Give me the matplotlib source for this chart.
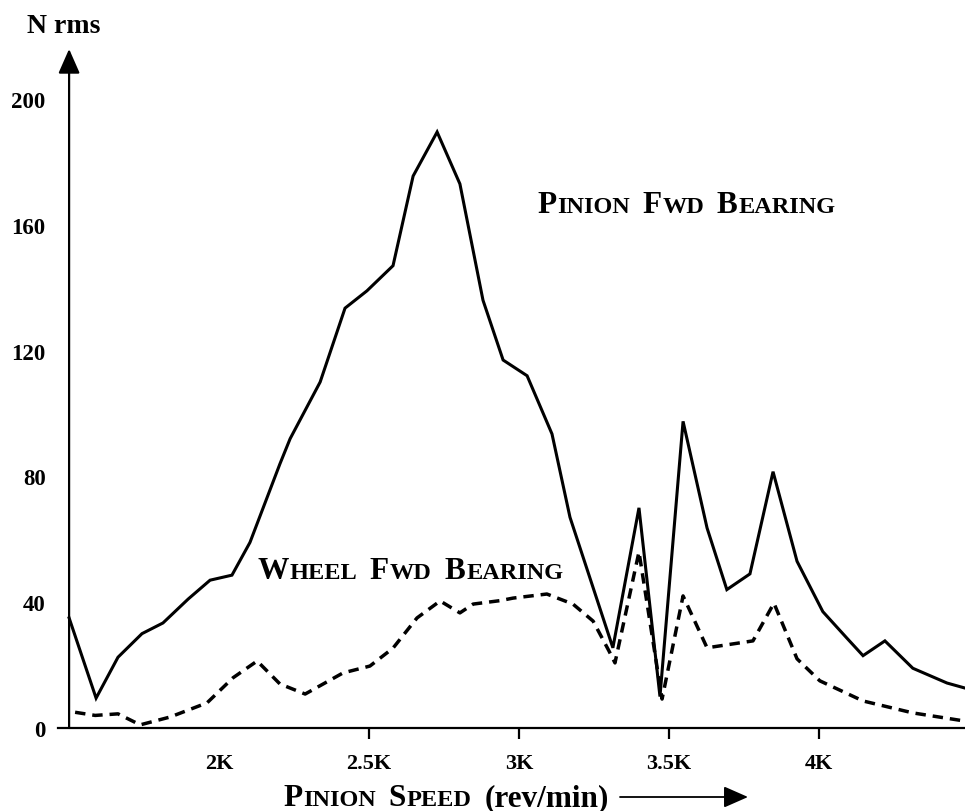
import matplotlib
matplotlib.use("Agg")
import matplotlib.pyplot as plt

# ---- data ----
pinion_rpm = [1500, 1590, 1663, 1743, 1813, 1897, 1970, 2043, 2103, 2203, 2237, 2337,
              2420, 2493, 2580, 2647, 2727, 2803, 2880, 2947, 3027, 3110, 3170, 3313,
              3400, 3470, 3547, 3627, 3693, 3770, 3847, 3927, 4013, 4093, 4147, 4220,
              4313, 4427, 4487]
pinion_n = [35, 9.5, 22.5, 30, 33.4, 41, 47, 48.6, 59, 84, 92, 110,
            133.5, 139, 147, 175.5, 189.5, 173, 136, 117, 112, 93.5, 67, 25.5,
            70, 10, 97.5, 63.6, 44, 49, 81.5, 53, 37, 28.6, 23, 27.7,
            19, 14.3, 12.7]

wheel_rpm = [1520, 1587, 1663, 1737, 1837, 1960, 2047, 2127, 2203, 2287, 2413, 2503,
             2580, 2660, 2737, 2803, 2847, 2937, 2980, 3093, 3180, 3247, 3300, 3320,
             3400, 3477, 3547, 3627, 3780, 3850, 3927, 4003, 4147, 4313, 4487]
wheel_n = [5, 4, 4.5, 1, 3.5, 8, 16, 21.3, 14, 10.8, 17.5, 19.7,
           25.4, 35, 40.4, 36.6, 39.4, 40.5, 41.3, 42.6, 39.4, 34, 24.5, 20.7,
           56, 9.2, 42, 25.5, 27.7, 39.7, 22, 15, 8.6, 4.8, 2.2]

x_ticks = [2000, 2500, 3000, 3500, 4000]
x_tick_labels = ["2K", "2.5K", "3K", "3.5K", "4K"]
y_ticks = [0, 40, 80, 120, 160, 200]
y_tick_labels = ["0", "40", "80", "120", "160", "200"]

SERIF = "Liberation Serif"
BIG = 22.5
SMALL = 17.5
GAP = 9

fig = plt.figure(figsize=(9.65, 8.12), dpi=100)
W, H = 965, 812
ax = fig.add_axes([58 / W, 1 - 729 / H, (W - 58) / W, (729 - 50) / H])
ax.set_xlim(1463, 4487)
ax.set_ylim(0, (729 - 50) / 3.145)

ax.plot(pinion_rpm, pinion_n, color="black", lw=2.2, solid_joinstyle="miter", clip_on=False)
ax.plot(wheel_rpm, wheel_n, color="black", lw=2.5, dashes=[3, 2], clip_on=False)

for s in ["top", "right", "left"]:
    ax.spines[s].set_visible(False)
ax.spines["bottom"].set_linewidth(1.6)

# y axis as an arrow
ax.annotate("", xy=(1500, ax.get_ylim()[1]), xytext=(1500, 0),
            xycoords="data", textcoords="data", annotation_clip=False,
            arrowprops=dict(arrowstyle="-|>,head_length=0.75,head_width=0.33",
                            mutation_scale=20, lw=1.6, color="black",
                            shrinkA=0, shrinkB=0))

ax.set_xticks(x_ticks)
ax.set_xticklabels(x_tick_labels, fontfamily=SERIF, fontweight="bold", fontsize=16)
ax.tick_params(axis="x", direction="out", length=8, width=1.6, pad=10)
ax.xaxis.get_major_ticks()[0].tick1line.set_visible(False)

ax.set_yticks(y_ticks)
ax.set_yticklabels(y_tick_labels, fontfamily=SERIF, fontweight="bold", fontsize=16.5)
ax.tick_params(axis="y", length=0, pad=9)


def smallcaps(parts, xy, ycoords):
    prev = None
    for text, size, gap in parts:
        if prev is None:
            prev = ax.annotate(text, xy=xy, xycoords=(ycoords[0], ycoords[1]),
                               fontsize=size, fontfamily=SERIF, fontweight="bold",
                               va="baseline", ha="left", annotation_clip=False)
        else:
            prev = ax.annotate(text, xy=(1, xy[1]), xycoords=(prev, ycoords[1]),
                               xytext=(gap, 0), textcoords="offset points",
                               fontsize=size, fontfamily=SERIF, fontweight="bold",
                               va="baseline", ha="left", annotation_clip=False)
    return prev


smallcaps([("P", BIG, 0), ("INION", SMALL, 0.8), ("F", BIG, GAP), ("WD", SMALL, 0.8),
           ("B", BIG, GAP), ("EARING", SMALL, 0.8)],
          (3060, 164), ("data", "data"))
smallcaps([("W", BIG, 0), ("HEEL", SMALL, 0.8), ("F", BIG, GAP), ("WD", SMALL, 0.8),
           ("B", BIG, GAP), ("EARING", SMALL, 0.8)],
          (2127, 47.7), ("data", "data"))
smallcaps([("P", BIG, 0), ("INION", SMALL, 0.8), ("S", BIG, GAP), ("PEED", SMALL, 0.8),
           ("(rev/min)", BIG, GAP)],
          (283 / W, 1 - 806 / H), ("figure fraction", "figure fraction"))

fig.text(27 / W, 1 - 33 / H, "N rms", fontsize=20, fontfamily=SERIF,
         fontweight="bold", va="baseline", ha="left")

# arrow after the x label
fig.add_artist(matplotlib.patches.FancyArrowPatch(
    (620 / W, 1 - 798 / H), (748 / W, 1 - 798 / H), transform=fig.transFigure,
    arrowstyle="-|>,head_length=0.75,head_width=0.33", mutation_scale=20,
    lw=1.3, color="black", shrinkA=0, shrinkB=0))

fig.savefig("out.png", dpi=100)
